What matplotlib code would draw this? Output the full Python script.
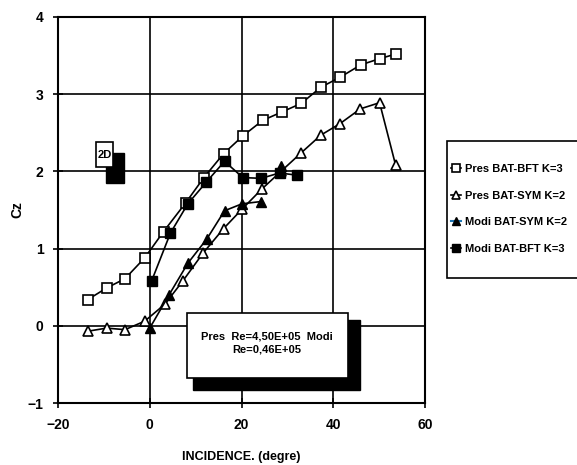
import matplotlib
matplotlib.use('Agg')
import matplotlib.pyplot as plt
from matplotlib.patches import Rectangle

# narrow bold look of the old plotter output
plt.rcParams['font.family'] = ['Liberation Sans', 'DejaVu Sans']
plt.rcParams['font.weight'] = 'bold'

# data
x_pres_bft = [-13.5, -9.4, -5.4, -1.1, 3.0, 7.8, 11.8, 16.1, 20.3, 24.6, 28.8, 33.0, 37.3, 41.5, 46.0, 50.1, 53.6]
y_pres_bft = [0.34, 0.49, 0.61, 0.88, 1.22, 1.59, 1.92, 2.23, 2.46, 2.66, 2.77, 2.88, 3.09, 3.22, 3.38, 3.46, 3.52]

x_pres_sym = [-13.5, -9.4, -5.4, -1.1, 3.3, 7.2, 11.6, 16.1, 20.1, 24.4, 28.6, 33.0, 37.3, 41.5, 45.9, 50.1, 53.6]
y_pres_sym = [-0.07, -0.03, -0.05, 0.06, 0.28, 0.58, 0.94, 1.26, 1.51, 1.77, 2.00, 2.24, 2.47, 2.62, 2.81, 2.89, 2.08]

x_modi_sym = [0.0, 4.2, 8.3, 12.5, 16.3, 20.1, 24.3, 28.6]
y_modi_sym = [-0.03, 0.40, 0.81, 1.13, 1.49, 1.58, 1.61, 2.07]

x_modi_bft = [0.4, 4.5, 8.3, 12.3, 16.3, 20.3, 24.3, 28.3, 32.2]
y_modi_bft = [0.58, 1.20, 1.58, 1.86, 2.13, 1.92, 1.91, 1.98, 1.95]

xticks = [-20, 0, 20, 40, 60]
yticks = [-1, 0, 1, 2, 3, 4]

W, H = 577, 465
fig = plt.figure(figsize=(W / 100, H / 100), dpi=100)
ax = fig.add_axes([58 / W, 1 - 403 / H, (425 - 58) / W, (403 - 17) / H])

ms = 7
ax.plot(x_pres_bft, y_pres_bft, color='black', lw=1.2, marker='s', ms=ms,
        mfc='white', mec='black', mew=1.2, label='Pres BAT-BFT K=3', zorder=3)
ax.plot(x_pres_sym, y_pres_sym, color='black', lw=1.2, marker='^', ms=ms,
        mfc='white', mec='black', mew=1.2, label='Pres BAT-SYM K=2', zorder=3)
ax.plot(x_modi_sym[:7], y_modi_sym[:7], color='black', lw=1.2, zorder=3)
ax.plot(x_modi_sym, y_modi_sym, ls='none', marker='^', ms=ms,
        mfc='black', mec='black', label='Modi BAT-SYM K=2', zorder=4)
ax.plot(x_modi_bft, y_modi_bft, color='black', lw=1.2, marker='s', ms=ms,
        mfc='black', mec='black', label='Modi BAT-BFT K=3', zorder=4)

ax.set_xlim(-20, 60)
ax.set_ylim(-1, 4)
ax.set_xticks(xticks)
ax.set_yticks(yticks)
ax.grid(True, color='black', lw=1.2)
for s in ax.spines.values():
    s.set_linewidth(1.5)
ax.tick_params(direction='inout', length=7, width=1.2, labelsize=10, pad=7)
ax.set_xlabel('INCIDENCE. (degre)', fontsize=9, fontweight='bold', labelpad=14)
ax.set_ylabel('Cz', fontsize=10, fontweight='bold', labelpad=2)


def px_rect(x0, y0, x1, y1, **kw):
    r = Rectangle((x0 / W, 1 - y1 / H), (x1 - x0) / W, (y1 - y0) / H,
                  transform=fig.transFigure, **kw)
    fig.add_artist(r)


# legend: frame runs off the right edge like the scan
px_rect(447, 141, 600, 278, facecolor='white', edgecolor='black', lw=1.2, zorder=1)
leg = fig.legend(loc='upper left', bbox_to_anchor=(451 / W, 1 - 164 / H),
                 fontsize=8, frameon=False, labelspacing=1.5, handlelength=0.9,
                 handletextpad=0.4, borderpad=0, borderaxespad=0, markerscale=0.8)
for line in leg.get_lines():
    line.set_linestyle('-')

# Reynolds number note with shadow
px_rect(193, 320, 360, 390, facecolor='black', edgecolor='black', zorder=5)
px_rect(187, 313, 348, 378, facecolor='white', edgecolor='black', lw=1.2, zorder=6)
fig.text(267 / W, 1 - 343 / H, 'Pres  Re=4,50E+05  Modi\nRe=0,46E+05', ha='center',
         va='center', fontsize=8, fontweight='bold', zorder=7, linespacing=1.3)

# 2D marker with shadow
px_rect(106, 153, 124, 183, facecolor='black', edgecolor='black', zorder=5)
px_rect(96, 142, 113, 167, facecolor='white', edgecolor='black', lw=1.2, zorder=6)
fig.text(104.5 / W, 1 - 155 / H, '2D', ha='center', va='center', fontsize=8,
         fontweight='bold', zorder=7)

fig.savefig('out.png', dpi=100)
